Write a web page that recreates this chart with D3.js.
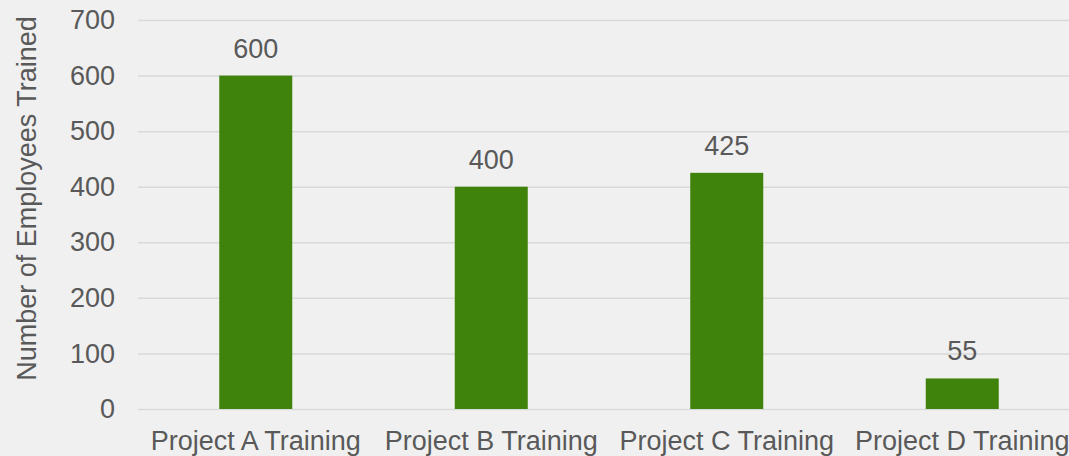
<!DOCTYPE html>
<html>
<head>
<meta charset="utf-8">
<script src="https://cdn.jsdelivr.net/npm/d3@7"></script>
<style>
  html, body { margin: 0; padding: 0; background: #f0f0f0; }
  svg { display: block; }
  text { font-family: "Liberation Sans", Arial, sans-serif; fill: #595959; }
</style>
</head>
<body>
<svg id="chart" width="1069" height="456"></svg>
<script>
// Training programmes and head-count trained on each
const categories = ["Project A Training", "Project B Training", "Project C Training", "Project D Training"];
const trained = [600, 400, 425, 55];
const yTicks = [0, 100, 200, 300, 400, 500, 600, 700];
const yTitle = "Number of Employees Trained";

const W = 1069, H = 456;
const margin = { left: 138, right: -11, top: 20, bottom: 47 };
const FONT = "27px";

const svg = d3.select("#chart");
svg.append("rect").attr("width", W).attr("height", H).attr("fill", "#f0f0f0");

const x = d3.scaleBand()
  .domain(categories)
  .range([margin.left, W - margin.right])
  .paddingInner(0.69)
  .paddingOuter(0.345);

const y = d3.scaleLinear()
  .domain([0, 700])
  .range([H - margin.bottom, margin.top]);

// Horizontal gridlines and value ticks
const yAxis = svg.append("g")
  .attr("transform", `translate(${margin.left},0)`)
  .call(d3.axisLeft(y).tickValues(yTicks).tickSize(-(W - margin.right - margin.left)).tickPadding(23));
yAxis.select(".domain").remove();
yAxis.selectAll(".tick line").attr("stroke", "#d9d9d9").attr("stroke-width", 1.5);
yAxis.selectAll(".tick text")
  .style("font-size", FONT).attr("fill", "#595959");

// Bars
svg.append("g").selectAll("rect")
  .data(categories)
  .join("rect")
  .attr("x", d => x(d))
  .attr("width", x.bandwidth())
  .attr("y", (d, i) => y(trained[i]))
  .attr("height", (d, i) => y(0) - y(trained[i]))
  .attr("fill", "#40830c");

// Value labels above bars
svg.append("g").selectAll("text")
  .data(categories)
  .join("text")
  .attr("x", d => x(d) + x.bandwidth() / 2)
  .attr("y", (d, i) => y(trained[i]) - 18)
  .attr("text-anchor", "middle")
  .style("font-size", FONT)
  .text((d, i) => trained[i]);

// Category axis labels
const xAxis = svg.append("g")
  .attr("transform", `translate(0,${y(0)})`)
  .call(d3.axisBottom(x).tickSize(0).tickPadding(22));
xAxis.select(".domain").remove();
xAxis.selectAll(".tick text").style("font-size", FONT).attr("fill", "#595959");

// Y axis title
svg.append("text")
  .attr("transform", `translate(36,198.5) rotate(-90)`)
  .attr("text-anchor", "middle")
  .style("font-size", FONT)
  .text(yTitle);
</script>
</body>
</html>
